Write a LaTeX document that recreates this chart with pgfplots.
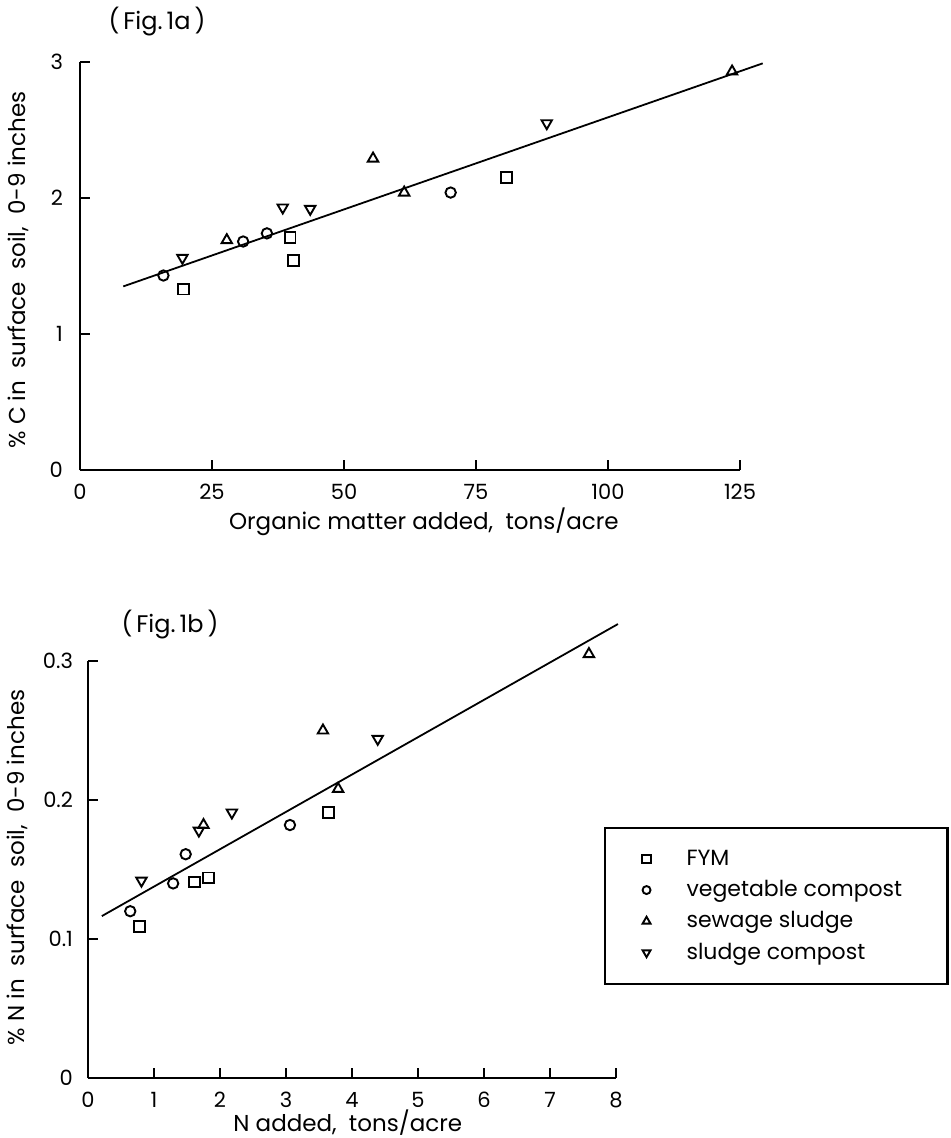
\documentclass[border=0pt]{standalone}
\usepackage{pgfplots}
\pgfplotsset{compat=1.18}
\usepackage{fontspec}
\setmainfont{Poppins}
\pgfplotsset{
 figstyle/.style={
  scale only axis, axis lines=left,
  axis line style={-, line width=1.1pt, black},
  tick align=inside, major tick length=5pt,
  every tick/.style={line width=1.1pt, black},
  ticklabel style={font=\fontsize{10.5}{12}\selectfont},
  xticklabel style={yshift=-3.5pt},
  /pgf/number format/assume math mode=true,
  label style={font=\fontsize{11.5}{13}\selectfont},
  clip=false,
 },
 sq/.style={only marks, mark=square, mark size=2.7pt, line width=0.95pt, black,
   legend image code/.code={\draw[##1, mark size=2.1pt] plot coordinates {(0cm,0cm)}; \path[draw=none] (-2.3pt,0) -- (18pt,0);}},
 ci/.style={only marks, mark=o, mark size=2.6pt, line width=0.95pt, black,
   legend image code/.code={\draw[##1, mark size=2pt] plot coordinates {(0cm,0cm)}; \path[draw=none] (-2.3pt,0) -- (18pt,0);}},
 tu/.style={only marks, mark=triangle, mark size=3pt, line width=0.95pt, black,
   legend image code/.code={\draw[##1, mark size=2.3pt] plot coordinates {(0cm,0cm)}; \path[draw=none] (-2.3pt,0) -- (18pt,0);}},
 td/.style={only marks, mark=triangle, mark size=3pt, line width=0.95pt, black, mark options={rotate=180},
   legend image code/.code={\draw[##1, mark size=2.3pt] plot coordinates {(0cm,0cm)}; \path[draw=none] (-2.3pt,0) -- (18pt,0);}},
}
\begin{document}
\begin{tikzpicture}
\path[use as bounding box, fill=white] (0,0) rectangle (475pt,-569pt);
\node[font=\fontsize{12}{14}\selectfont] at (78.5pt,-11pt) {(\,Fig.\,1a\,)};
\node[font=\fontsize{12}{14}\selectfont] at (85pt,-312.5pt) {(\,Fig.\,1b\,)};

% ---------------- Fig 1a ----------------
\begin{axis}[figstyle,
  at={(40pt,-235pt)}, anchor=south west,
  width=330pt, height=204pt,
  xmin=0, xmax=125, ymin=0, ymax=3,
  xtick={0,25,50,75,100,125}, ytick={0,1,2,3},
  yticklabel style={xshift=-5pt},
  xlabel={Organic matter added,\ \ tons/acre},
  ylabel={\%\ C in\ \ surface\ \ soil,\ \ 0-9 inches},
  xlabel style={at={(axis description cs:0.521,-0.127)}, anchor=center},
  ylabel style={at={(axis description cs:-0.094,0.49)}, anchor=center},
]
\addplot[black, line width=0.9pt, no marks] coordinates {(8.2,1.35) (129.3,2.99)};
\addplot[sq] coordinates {(19.6,1.33) (39.8,1.71) (40.5,1.54) (80.8,2.15)};
\addplot[ci] coordinates {(15.8,1.43) (30.9,1.68) (35.4,1.74) (70.2,2.04)};
\addplot[tu] coordinates {(27.8,1.69) (55.5,2.29) (61.4,2.04) (123.5,2.93)};
\addplot[td] coordinates {(19.4,1.56) (38.4,1.93) (43.6,1.92) (88.4,2.55)};
\end{axis}

% ---------------- Fig 1b ----------------
\begin{axis}[figstyle,
  at={(44pt,-539pt)}, anchor=south west,
  width=264pt, height=208.5pt,
  xmin=0, xmax=8, ymin=0, ymax=0.3,
  xtick={0,1,...,8}, ytick={0,0.1,0.2,0.3},
  yticklabels={0,0.1,0.2,0.3},
  yticklabel style={xshift=-4pt},
  xlabel={N added,\ \ tons/acre},
  ylabel={\%\ N in\ \ surface\ \ soil,\ \ 0-9 inches},
  xlabel style={at={(axis description cs:0.492,-0.106)}, anchor=center},
  ylabel style={at={(axis description cs:-0.133,0.505)}, anchor=center},
  legend cell align=left,
  legend style={at={(0.977,0.602)}, anchor=north west, draw=black, line width=1.1pt,
    inner xsep=18.5pt, inner ysep=9pt, row sep=2pt,
    font=\fontsize{11}{13}\selectfont},
]
\addplot[black, line width=0.9pt, no marks, forget plot] coordinates {(0.21,0.1165) (8.03,0.3266)};
\addplot[sq] coordinates {(0.78,0.109) (1.61,0.141) (1.83,0.144) (3.64,0.191)};
\addlegendentry{\makebox[110pt][l]{FYM}}
\addplot[ci] coordinates {(0.64,0.120) (1.29,0.140) (1.48,0.161) (3.06,0.182)};
\addlegendentry{\makebox[110pt][l]{vegetable compost}}
\addplot[tu] coordinates {(1.75,0.182) (3.56,0.250) (3.79,0.208) (7.59,0.305)};
\addlegendentry{\makebox[110pt][l]{sewage sludge}}
\addplot[td] coordinates {(0.81,0.142) (1.68,0.178) (2.18,0.191) (4.39,0.244)};
\addlegendentry{\makebox[110pt][l]{sludge compost}}
\end{axis}
\end{tikzpicture}
\end{document}
